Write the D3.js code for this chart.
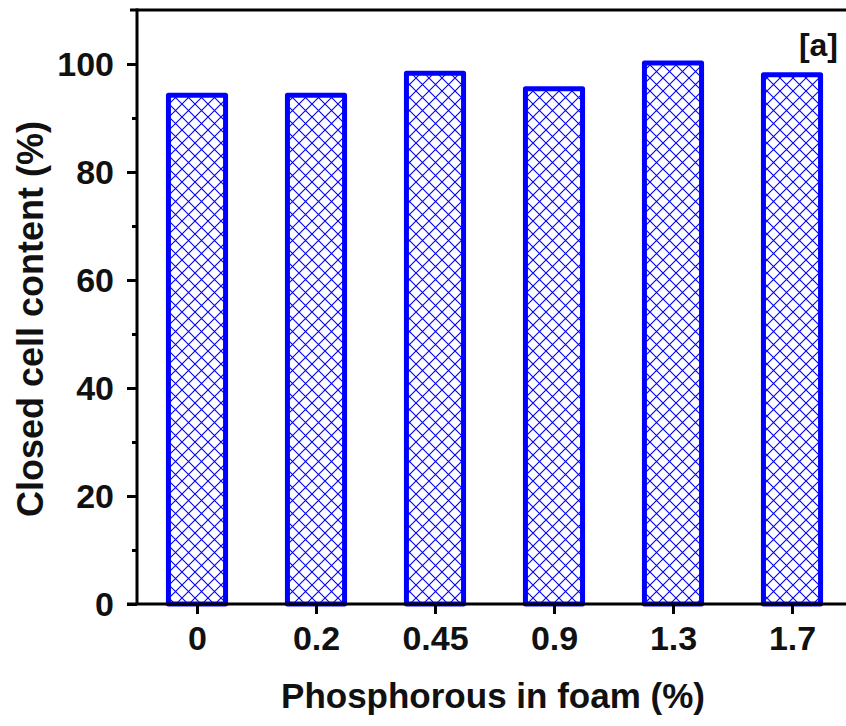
<!DOCTYPE html>
<html>
<head>
<meta charset="utf-8">
<script src="https://cdn.jsdelivr.net/npm/d3@7/dist/d3.min.js"></script>
<style>
  html, body { margin: 0; padding: 0; background: #fff; }
  svg { display: block; }
  text { font-family: "Liberation Sans", Arial, sans-serif; font-weight: bold; fill: #111; }
</style>
</head>
<body>
<svg id="chart" width="846" height="726"></svg>
<script>
// Closed cell content of foams by phosphorous loading
const categories = ["0", "0.2", "0.45", "0.9", "1.3", "1.7"];
const closedCell = [94.2, 94.2, 98.3, 95.4, 100.2, 98.0];
const yTicks = [0, 20, 40, 60, 80, 100];
const yMinorTicks = [10, 30, 50, 70, 90];

const svg = d3.select("#chart");
const blue = "#0000ff";

const plotLeft = 137, plotBottom = 604, plotTop = 10, plotRight = 846;

const y = d3.scaleLinear().domain([0, 110]).range([plotBottom, plotTop]);
const x = d3.scaleLinear().domain([0, categories.length - 1]).range([197, 792]);
const step = x(1) - x(0);
const barW = step * 0.48;

// crosshatch fill
const defs = svg.append("defs");
const pat = defs.append("pattern")
  .attr("id", "xhatch")
  .attr("patternUnits", "userSpaceOnUse")
  .attr("width", 13).attr("height", 13);
pat.append("rect").attr("width", 13).attr("height", 13).attr("fill", "#fff");
pat.append("path")
  .attr("d", "M0,0L13,13M13,0L0,13M-1,12L1,14M12,-1L14,1")
  .attr("stroke", blue).attr("stroke-width", 1.1).attr("fill", "none");

// bars
svg.append("g").selectAll("rect")
  .data(closedCell)
  .join("rect")
  .attr("x", (d, i) => x(i) - barW / 2)
  .attr("y", d => y(d))
  .attr("width", barW)
  .attr("height", d => y(0) - y(d))
  .attr("fill", "url(#xhatch)")
  .attr("stroke", blue)
  .attr("stroke-width", 5)
  .attr("stroke-linejoin", "round");

// frame top line
svg.append("line")
  .attr("x1", plotLeft - 7).attr("x2", plotRight)
  .attr("y1", plotTop).attr("y2", plotTop)
  .attr("stroke", "#000").attr("stroke-width", 3);

// y axis
const yAxis = svg.append("g")
  .attr("transform", `translate(${plotLeft},0)`)
  .call(d3.axisLeft(y).tickValues(yTicks).tickSize(10).tickPadding(13).tickFormat(d3.format("d")));
yAxis.select(".domain").remove();
yAxis.selectAll(".tick line").attr("stroke", "#000").attr("stroke-width", 3);
yAxis.selectAll(".tick text").style("font-size", "34px").attr("dy", "0.35em");

const yMinor = svg.append("g")
  .attr("transform", `translate(${plotLeft},0)`)
  .call(d3.axisLeft(y).tickValues(yMinorTicks).tickSize(5).tickFormat(""));
yMinor.select(".domain").remove();
yMinor.selectAll(".tick line").attr("stroke", "#000").attr("stroke-width", 3);

svg.append("line")
  .attr("x1", plotLeft).attr("x2", plotLeft)
  .attr("y1", plotTop - 1.5).attr("y2", plotBottom)
  .attr("stroke", "#000").attr("stroke-width", 3);

// x axis
const xAxis = svg.append("g")
  .attr("transform", `translate(0,${plotBottom})`)
  .call(d3.axisBottom(x).tickValues(d3.range(categories.length)).tickSize(10).tickPadding(12)
    .tickFormat(i => categories[i]));
xAxis.select(".domain").remove();
xAxis.selectAll(".tick line").attr("stroke", "#000").attr("stroke-width", 3);
xAxis.selectAll(".tick text").style("font-size", "34px");

svg.append("line")
  .attr("x1", plotLeft - 10).attr("x2", plotRight)
  .attr("y1", plotBottom).attr("y2", plotBottom)
  .attr("stroke", "#000").attr("stroke-width", 3);

// axis titles
svg.append("text")
  .attr("x", 493).attr("y", 708)
  .attr("text-anchor", "middle")
  .style("font-size", "35px")
  .text("Phosphorous in foam (%)");

svg.append("text")
  .attr("transform", "translate(43,319) rotate(-90)")
  .attr("text-anchor", "middle")
  .style("font-size", "36px")
  .text("Closed cell content (%)");

// panel tag
svg.append("text")
  .attr("x", 838).attr("y", 56)
  .attr("text-anchor", "end")
  .style("font-size", "32px")
  .text("[a]");
</script>
</body>
</html>
